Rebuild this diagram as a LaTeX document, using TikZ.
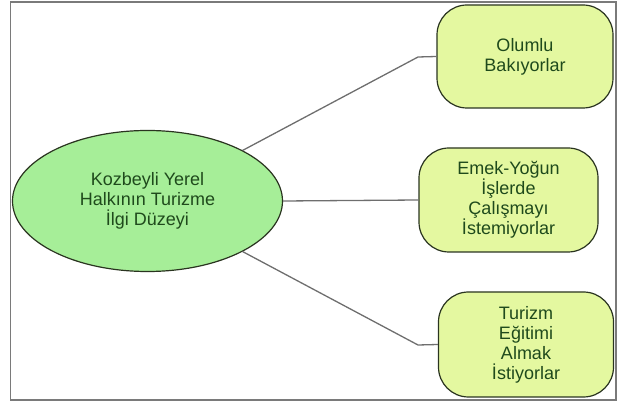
\documentclass[tikz,border=0pt]{standalone}
\usepackage{fontspec}
\setmainfont{Liberation Sans}
\usetikzlibrary{shapes.geometric}
\definecolor{ellfill}{HTML}{A6EE98}
\definecolor{boxfill}{HTML}{E4F8A0}
\definecolor{edgecol}{HTML}{2A3420}
\definecolor{txtcol}{HTML}{1F4A1C}
\definecolor{linecol}{HTML}{6E6E6E}
\definecolor{framecol}{HTML}{7A7A7A}
\tikzset{
  mainell/.style={ellipse, draw=edgecol, fill=ellfill, line width=1.2pt, minimum width=270pt, minimum height=141pt, inner sep=0pt, align=center, text=txtcol, font=\fontsize{18}{20}\selectfont},
  leafbox/.style={rectangle, rounded corners=30pt, draw=edgecol, fill=boxfill, line width=1.2pt, inner sep=0pt, align=center, text=txtcol, font=\fontsize{18}{20}\selectfont},
  conn/.style={draw=linecol, line width=1.3pt}
}
\begin{document}
\begin{tikzpicture}[x=1pt,y=-1pt]
\useasboundingbox (0,0) rectangle (619,403);
\draw[framecol, line width=1.2pt] (10.5,2) rectangle (616,400);
\node[mainell] (c) at (147.5,201) {Kozbeyli Yerel\\Halkının Turizme\\İlgi Düzeyi};
\node[leafbox, minimum width=176pt, minimum height=103pt] (b1) at (525,56.5) {Olumlu\\Bakıyorlar};
\node[leafbox, minimum width=179pt, minimum height=104pt] (b2) at (508.5,200) {Emek-Yoğun\\İşlerde\\Çalışmayı\\İstemiyorlar};
\node[leafbox, minimum width=175pt, minimum height=105pt] (b3) at (526,344.5) {Turizm\\Eğitimi\\Almak\\İstiyorlar};
\coordinate (k1) at (418,57);
\coordinate (k3) at (418,345);
\draw[conn] (c.28) -- (k1) -- (b1.west);
\draw[conn] (c.east) -- (b2.west);
\draw[conn] (c.-28) -- (k3) -- (b3.west);
\end{tikzpicture}
\end{document}
